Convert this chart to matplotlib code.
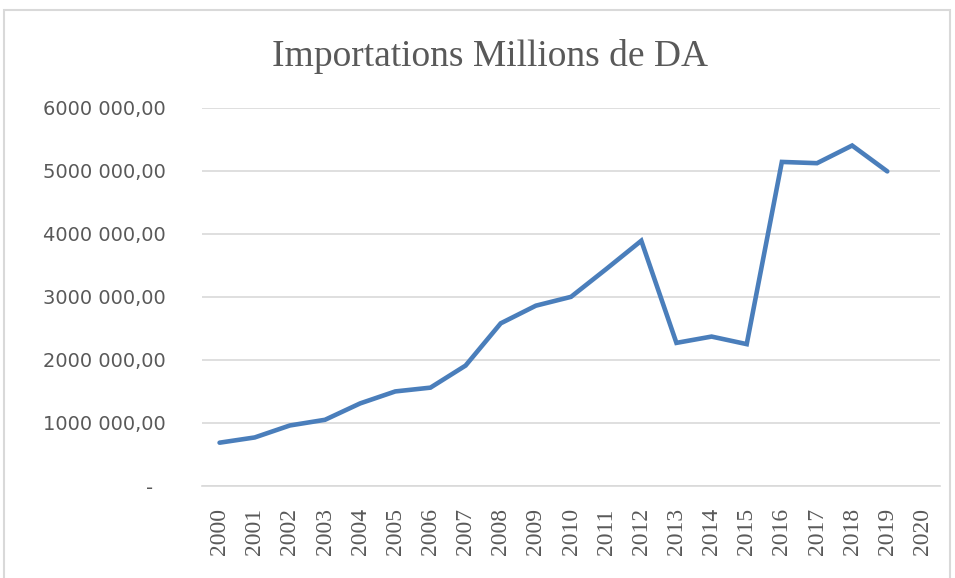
import matplotlib
matplotlib.use("Agg")
import matplotlib.pyplot as plt
from matplotlib.patches import Rectangle
from matplotlib.ticker import FuncFormatter

# données (millions de DA)
annees = [str(a) for a in range(2000, 2021)]
importations = [687000, 770000, 960000, 1050000, 1310000, 1500000, 1560000,
                1910000, 2580000, 2860000, 3000000, 3440000, 3890000,
                2270000, 2370000, 2250000, 5140000, 5120000, 5400000, 4990000]
titre = "Importations Millions de DA"

gris = "#595959"

fig = plt.figure(figsize=(9.55, 5.78), dpi=100)
# cadre du graphique (style Excel)
fig.patches.append(Rectangle((4 / 955, -0.02), 946 / 955, 1.02 - 10 / 578,
                             transform=fig.transFigure, fill=False,
                             edgecolor="#D9D9D9", linewidth=1.5))

ax = fig.add_axes([202 / 955, 1 - 486 / 578, 738 / 955, (486 - 107.7) / 578])

x = list(range(len(annees)))
ax.plot(x[:len(importations)], importations, color="#4A7EBB", linewidth=3.3,
        solid_joinstyle="miter", solid_capstyle="round")

ax.set_xlim(-0.5, len(annees) - 0.5)
ax.set_ylim(0, 6000000)
ax.set_yticks(range(0, 6000001, 1000000))
ax.yaxis.grid(True, color="#D9D9D9", linewidth=1.2)
ax.set_axisbelow(True)


def fmt(v, pos):
    if v == 0:
        return "-  "
    s = "{:,.2f}".format(v).replace(",", " ").replace(".", ",")
    # 6 000 000,00 -> 6000 000,00
    return s.replace(" ", "", 1)


ax.yaxis.set_major_formatter(FuncFormatter(fmt))
ax.set_xticks(x)
ax.set_xticklabels(annees, rotation=90, fontfamily="Liberation Serif",
                   fontsize=17, color=gris)
for lab in ax.get_yticklabels():
    lab.set_fontfamily("DejaVu Sans")
ax.tick_params(axis="y", length=0, pad=26, labelsize=14, labelcolor=gris)
ax.tick_params(axis="x", length=0, pad=16)
for s in ["top", "right", "left"]:
    ax.spines[s].set_visible(False)
ax.spines["bottom"].set_color("#D9D9D9")
ax.spines["bottom"].set_linewidth(1.2)

fig.text(490 / 955, 1 - 66 / 578, titre, ha="center", va="baseline",
         fontfamily="Liberation Serif", fontsize=27, color=gris)

fig.savefig("out.png", dpi=100)
